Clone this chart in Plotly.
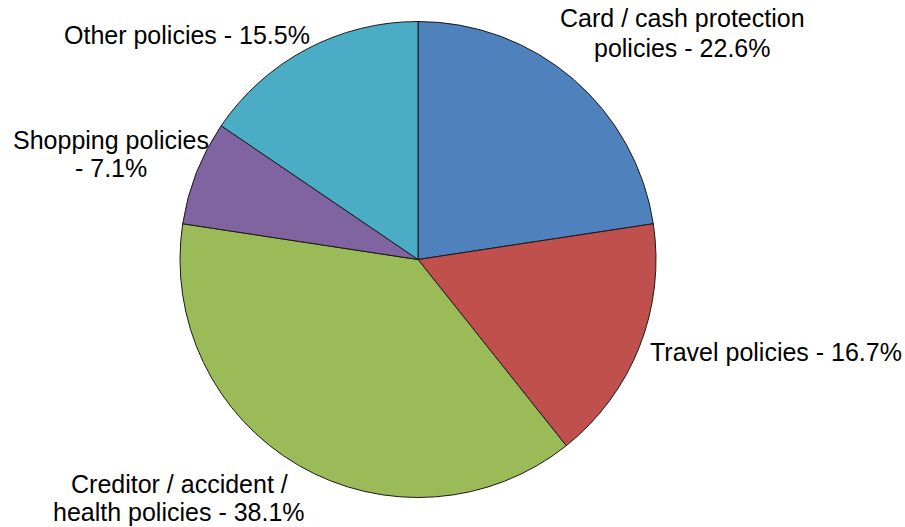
import plotly.graph_objects as go

labels = ["Card / cash protection policies", "Travel policies",
          "Creditor / accident / health policies", "Shopping policies", "Other policies"]
values = [22.6, 16.7, 38.1, 7.1, 15.5]
colors = ["#4F81BD", "#C0504D", "#9BBB59", "#8064A2", "#4BACC6"]
label_lines = [["Card / cash protection", "policies - 22.6%"],
               ["Travel policies - 16.7%"],
               ["Creditor / accident /", "health policies - 38.1%"],
               ["Shopping policies", "- 7.1%"],
               ["Other policies - 15.5%"]]

W, H = 905, 527
cx, cy, r = 418, 259.5, 238

fig = go.Figure(go.Pie(
    labels=labels, values=values, sort=False, direction="clockwise", rotation=0,
    marker=dict(colors=colors, line=dict(color="#1a1a1a", width=1)),
    textinfo="none", hoverinfo="label+percent", showlegend=False,
    domain=dict(x=[(cx - r) / W, (cx + r) / W], y=[(H - cy - r) / H, (H - cy + r) / H]),
))

# label anchor positions in pixels (x, first-line center y, xanchor, line gap)
pos = [(682, 18, "center", 30), (648, 352, "left", 0), (179, 483.5, "center", 28),
       (110.5, 140, "center", 28), (186.5, 35, "center", 0)]
for (px, py, xa, gap), lines in zip(pos, label_lines):
    for i, t in enumerate(lines):
        fig.add_annotation(x=px / W, y=1 - (py + i * gap) / H, xref="paper", yref="paper",
                           text=t, showarrow=False, xanchor=xa, yanchor="middle",
                           font=dict(family="Liberation Sans, Arial", size=25, color="#000000"),
                           align="center")

fig.update_layout(width=W, height=H, margin=dict(l=0, r=0, t=0, b=0),
                  paper_bgcolor="white", plot_bgcolor="white")
fig.write_html("out.html")
